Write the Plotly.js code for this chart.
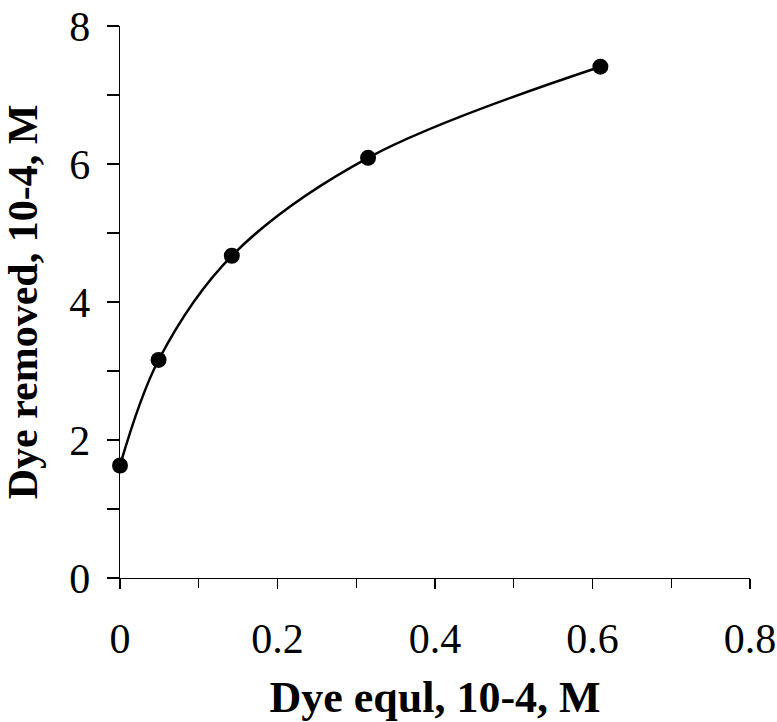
<!DOCTYPE html>
<html>
<head>
<meta charset="utf-8">
<script src="https://cdn.plot.ly/plotly-3.0.1.min.js"></script>
<style>html,body{margin:0;padding:0;background:#fff;}#chart{width:777px;height:722px;}</style>
</head>
<body>
<div id="chart"></div>
<script>
var dyeEqul = [0, 0.049, 0.142, 0.315, 0.61];
var dyeRemoved = [1.63, 3.16, 4.67, 6.09, 7.41];
var xTickVals = [0, 0.2, 0.4, 0.6, 0.8];
var xTickText = ['0', '0.2', '0.4', '0.6', '0.8'];
var yTickVals = [0, 2, 4, 6, 8];
var yTickText = ['0', '2', '4', '6', '8'];

var font = 'Liberation Serif, Times New Roman, serif';

var trace = {
  x: dyeEqul, y: dyeRemoved,
  type: 'scatter', mode: 'lines+markers',
  line: {color: '#000', width: 2.5, shape: 'spline', smoothing: 1},
  marker: {color: '#000', size: 16},
  cliponaxis: false,
  hoverinfo: 'none'
};

var layout = {
  width: 777, height: 722,
  margin: {l: 119.5, r: 27, t: 26, b: 143.7},
  paper_bgcolor: '#fff', plot_bgcolor: '#fff',
  showlegend: false,
  font: {family: font, color: '#000'},
  xaxis: {
    range: [0, 0.8], tickvals: xTickVals, ticktext: xTickText,
    showgrid: false, zeroline: false,
    showline: true, linecolor: '#000', linewidth: 1.3,
    ticks: 'outside', ticklen: 10, tickwidth: 1.3, tickcolor: '#000',
    minor: {tickvals: [0.1, 0.3, 0.5, 0.7], ticks: 'outside', ticklen: 9, tickwidth: 1.3, tickcolor: '#000', showgrid: false},
    tickfont: {size: 42, family: font, color: '#000'},
    ticklabelstandoff: 13,
    title: {text: '<b>Dye equl, 10-4, M</b>', font: {size: 44, family: font, color: '#000'}, standoff: 22}
  },
  yaxis: {
    range: [0, 8], tickvals: yTickVals, ticktext: yTickText,
    showgrid: false, zeroline: false,
    showline: true, linecolor: '#000', linewidth: 1.3,
    ticks: 'outside', ticklen: 12, tickwidth: 1.3, tickcolor: '#000',
    minor: {tickvals: [1, 3, 5, 7], ticks: 'outside', ticklen: 12, tickwidth: 1.3, tickcolor: '#000', showgrid: false},
    tickfont: {size: 42, family: font, color: '#000'},
    ticklabelstandoff: 8,
    title: {text: '<b>Dye removed, 10-4, M</b>', font: {size: 42, family: font, color: '#000'}, standoff: 18}
  }
};

Plotly.newPlot('chart', [trace], layout, {displayModeBar: false, staticPlot: true});
</script>
</body>
</html>
